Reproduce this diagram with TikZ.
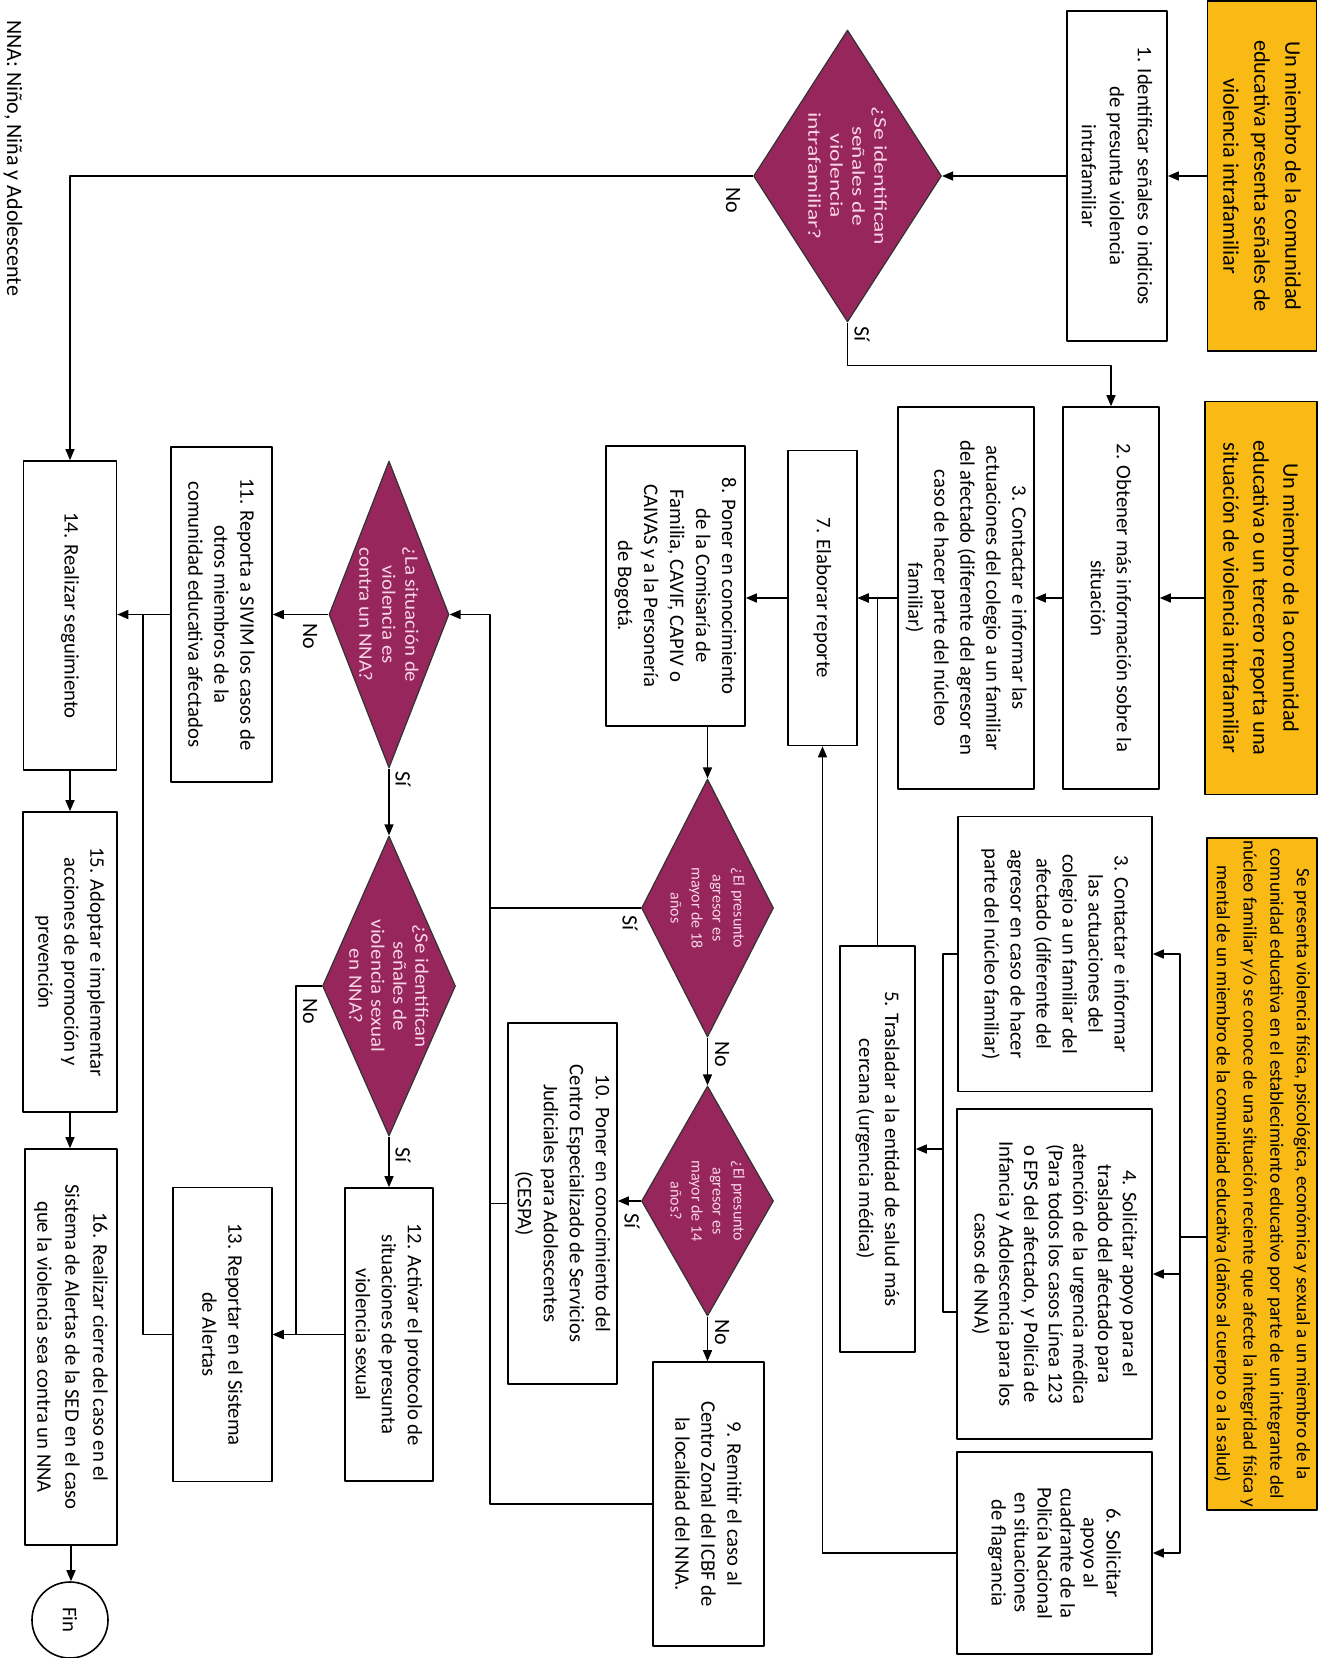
\documentclass[tikz,border=0pt]{standalone}
\usepackage{fontspec}
\setmainfont{Carlito}
\newfontfamily\ancha[FakeStretch=1.3]{Carlito}
\newfontfamily\media[FakeStretch=1.1]{Carlito}
\usetikzlibrary{shapes.geometric,arrows.meta,calc}
\definecolor{naranja}{RGB}{250,186,22}
\definecolor{morado}{RGB}{150,38,92}
\definecolor{rosa}{RGB}{248,212,230}
\begin{document}
\begin{tikzpicture}[x=1pt,y=1pt,>={Triangle[length=11pt,width=9pt]},line join=round,
	caja/.style={draw,line width=1.6pt,fill=white,rotate=-90,align=center,inner sep=3pt,font=\fontsize{20.7}{26}\selectfont},
	aviso/.style={caja,fill=naranja,font=\fontsize{22.3}{31}\selectfont},
	deci/.style={diamond,draw=black!80,line width=1.2pt,fill=morado,rotate=-90,inner sep=0pt},
	dtxt/.style={rotate=-90,align=center,text=rosa,inner sep=0pt},
	lbl/.style={rotate=-90,inner sep=0pt,font=\fontsize{22}{24}\selectfont},
	sz/.style 2 args={minimum width=#1pt,minimum height=#2pt},
	flecha/.style={->,line width=1.4pt}]
	\useasboundingbox (0,0) rectangle (1326,-1658);
	% entradas
	\node[aviso,sz={350}{109}] (o1) at (1262,-176) {Un miembro de la comunidad\\educativa presenta señales de\\violencia intrafamiliar};
	\node[aviso,sz={393}{112},font=\fontsize{22.3}{30}\selectfont] (o2) at (1261,-598) {Un miembro de la comunidad\\educativa o un tercero reporta una\\situación de violencia intrafamiliar};
	\node[aviso,sz={666}{110},font=\fontsize{19}{26.7}\selectfont] (o3) at (1262,-1174) {Se presenta violencia física, psicológica, económica y sexual a un miembro de la\\comunidad educativa en el establecimiento educativo por parte de un integrante del\\núcleo familiar y/o se conoce de una situación reciente que afecte la integridad física y\\mental de un miembro de la comunidad educativa (daños al cuerpo o a la salud)};
	% pasos
	\node[caja,sz={330}{100},font=\fontsize{20.7}{28}\selectfont] (n1) at (1117,-176) {1. Identificar señales o indicios\\de presunta violencia\\intrafamiliar};
	\node[caja,sz={382}{96}] (n2) at (1111,-598) {2. Obtener más información sobre la\\situación};
	\node[caja,sz={382}{136}] (n3) at (966,-598) {3. Contactar e informar las\\actuaciones del colegio a un familiar\\del afectado (diferente del agresor en\\caso de hacer parte del núcleo\\familiar)};
	\node[caja,sz={275}{194}] (n3b) at (1055,-954) {3. Contactar e informar\\las actuaciones del\\colegio a un familiar del\\afectado (diferente del\\agresor en caso de hacer\\parte del núcleo familiar)};
	\node[caja,sz={330}{195},font=\fontsize{20.7}{24.7}\selectfont] (n4) at (1054.5,-1274) {4. Solicitar apoyo para el\\traslado del afectado para\\atención de la urgencia médica\\(Para todos los casos Línea 123\\o EPS del afectado, y Policía de\\Infancia y Adolescencia para los\\casos de NNA)};
	\node[caja,sz={202}{195},font=\fontsize{20.7}{23}\selectfont] (n6) at (1054.5,-1553) {6. Solicitar\\apoyo al\\cuadrante de la\\Policía Nacional\\en situaciones\\de flagrancia};
	\node[caja,sz={406}{75}] (n5) at (877.5,-1149) {5. Trasladar a la entidad de salud más\\cercana (urgencia médica)};
	\node[caja,sz={295}{69}] (n7) at (822.5,-598) {7. Elaborar reporte};
	\node[caja,sz={280}{139}] (n8) at (675.5,-586) {8. Poner en conocimiento\\de la Comisaría de\\Familia, CAVIF, CAPIV o\\CAIVAS y a la Personería\\de Bogotá.};
	\node[caja,sz={361}{109}] (n10) at (562.5,-1203.5) {10. Poner en conocimiento del\\Centro Especializado de Servicios\\Judiciales para Adolescentes\\(CESPA)};
	\node[caja,sz={284}{111}] (n9) at (708.5,-1504) {9. Remitir el caso al\\Centro Zonal del ICBF de\\la localidad del NNA.};
	\node[caja,sz={335}{101}] (n11) at (221.5,-614.5) {11. Reporta a SIVIM los casos de\\otros miembros de la\\comunidad educativa afectados};
	\node[caja,sz={293}{88}] (n12) at (389,-1334.5) {12. Activar el protocolo de\\situaciones de presunta\\violencia sexual};
	\node[caja,sz={294}{99}] (n13) at (222.5,-1334.5) {13. Reportar en el Sistema\\de Alertas};
	\node[caja,sz={309}{93}] (n14) at (70,-615.5) {14. Realizar seguimiento};
	\node[caja,sz={300}{94}] (n15) at (70,-962) {15. Adoptar e implementar\\acciones de promoción y\\prevención};
	\node[caja,sz={396}{92},font=\fontsize{20.7}{28}\selectfont] (n16) at (71,-1347) {16. Realizar cierre del caso en el\\Sistema de Alertas de la SED en el caso\\que la violencia sea contra un NNA};
	\node[circle,draw,line width=1.6pt,rotate=-90,minimum size=76pt,font=\fontsize{20.7}{24}\selectfont] (fin) at (70,-1620) {Fin};
	% decisiones
	\node[deci,sz={292}{188}] (d1) at (847.5,-176) {};
	\node[dtxt,font=\ancha\fontsize{18}{22}\selectfont] (t1) at (d1) {¿Se identifican\\señales de\\violencia\\intrafamiliar?};
	\node[deci,sz={258}{132}] (d4) at (707.5,-908) {};
	\node[dtxt,font=\fontsize{16}{21}\selectfont] (t4) at (d4) {¿El presunto\\agresor es\\mayor de 18\\años};
	\node[deci,sz={230}{132}] (d5) at (707.5,-1201) {};
	\node[dtxt,font=\fontsize{16}{21}\selectfont] (t5) at (d5) {¿El presunto\\agresor es\\mayor de 14\\años?};
	\node[deci,sz={307}{120}] (d2) at (389,-614.5) {};
	\node[dtxt,font=\media\fontsize{19}{23}\selectfont] (t2) at (d2) {¿La situación de\\violencia es\\contra un NNA?};
	\node[deci,sz={300}{133}] (d3) at (389,-986) {};
	\node[dtxt,font=\media\fontsize{19}{22}\selectfont] (t3) at (d3) {¿Se identifican\\señales de\\violencia sexual\\en NNA?};
	\node[rotate=-90,inner sep=0pt,font=\fontsize{22}{26}\selectfont] (nota) at (13,-158) {NNA: Niño, Niña y Adolescente};
	% conectores
	\draw[flecha] (o1.south) -- (n1.north);
	\draw[flecha] (n1.south) -- (d1.north);
	\draw[flecha] (d1.south) -| (n14.west);
	\draw[flecha] (d1.east) -- ++(0,-43) -| (n2.west);
	\draw[flecha] (o2.south) -- (n2.north);
	\draw[flecha] (n2.south) -- (n3.north);
	\draw[flecha] (n3.south) -- (n7.north);
	\draw[flecha] (n5.west) |- (n7.north);
	\coordinate (bus) at (1180,-1237);
	\draw[line width=1.4pt] (o3.south |- bus) -- (bus);
	\foreach \nodo in {n3b,n4,n6} \draw[flecha] (bus) |- (\nodo.north);
	\coordinate (br) at (943,-1149);
	\draw[line width=1.4pt] (n3b.south) -| (br) |- ($(n4.south)+(0,-38)$);
	\draw[flecha] (br) -- (n5.north);
	\draw[flecha] (n6.south) -| (n7.east);
	\draw[flecha] (n7.south) -- (n7.south -| n8.north);
	\draw[flecha] (d4.west |- n8.east) -- (d4.west);
	\coordinate (jn) at (490,-1204);
	\draw[flecha] (d4.south) -- (d4.south -| jn) |- (d2.north);
	\draw[flecha] (d4.east) -- (d5.west);
	\draw[flecha] (d5.south) -- (d5.south -| n10.north);
	\draw[flecha] (d5.east) -- (d5.east |- n9.west);
	\draw[line width=1.4pt] (n10.south) -- (n10.south -| jn);
	\draw[line width=1.4pt] (n9.south) -| (d4.south -| jn);
	\draw[flecha] (d2.south) -- (d2.south -| n11.north);
	\draw[flecha] (d2.east) -- (d3.west);
	\draw[flecha] (n11.south) -- (n11.south -| n14.north);
	\coordinate (sube) at (143,-614.5);
	\draw[line width=1.4pt] (n13.south) -| (sube);
	\draw[flecha] (d3.south) -- ++(-26,0) |- (n13.north);
	\draw[flecha] (d3.east) -- (n12.west);
	\draw[flecha] (n12.south) -- (n13.north);
	\draw[flecha] (n14.east) -- (n14.east |- n15.west);
	\draw[flecha] (n15.east) -- (n15.east |- n16.west);
	\draw[flecha] (n16.east) -- (n16.east |- fin.west);
	% etiquetas
	\node[lbl] (no1) at (733,-200) {No};
	\node[lbl] (si1) at (862,-334) {Sí};
	\node[lbl] (si4) at (630,-923) {Sí};
	\node[lbl] (no4) at (722,-1054) {No};
	\node[lbl] (si5) at (632,-1221) {Sí};
	\node[lbl] (no5) at (722,-1332) {No};
	\node[lbl] (no2) at (310,-636) {No};
	\node[lbl] (si2) at (403,-779) {Sí};
	\node[lbl] (no3) at (310,-1011) {No};
	\node[lbl] (si3) at (403,-1155) {Sí};
\end{tikzpicture}
\end{document}
